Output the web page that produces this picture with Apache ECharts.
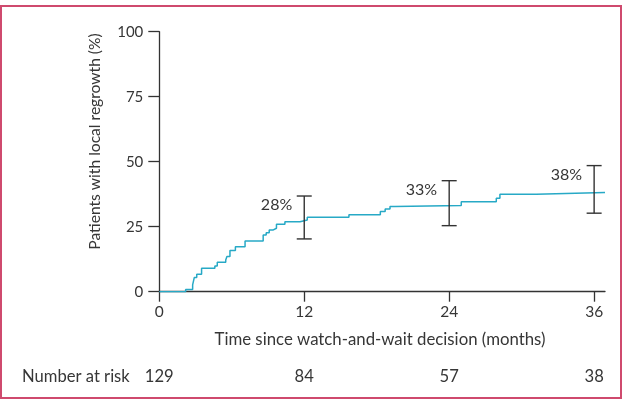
<!DOCTYPE html>
<html><head><meta charset="utf-8">
<script src="https://cdn.jsdelivr.net/npm/echarts@6/dist/echarts.min.js"></script>
<style>html,body{margin:0;padding:0;background:#fff}#c{width:625px;height:404px}</style>
</head><body><div id="c"></div>
<script>
// Kaplan-Meier style cumulative regrowth (month, %)
const curveMonths = [0, 2.18, 2.76, 2.9, 3.1, 3.5, 4.6, 4.8, 5.5, 5.6, 5.85, 6.3, 7.1, 8.6, 8.85, 9.1, 9.4, 9.7, 10.4, 11.65, 12.25, 15.7, 18.3, 18.7, 19.1, 19.5, 25.0, 27.9, 28.2, 31.2, 36.9];
const curveValues = [0, 0.8, 2.6, 5.5, 6.7, 9.0, 9.9, 11.3, 12.2, 13.5, 15.8, 17.3, 19.5, 21.8, 22.7, 23.7, 24.4, 25.9, 26.9, 27.6, 28.6, 29.6, 30.8, 31.8, 32.8, 33.2, 34.6, 35.9, 37.5, 38.2, 38.2];
const errTimes = [12, 24, 36];
const errLow = [20.3, 25.4, 30.2];
const errHigh = [36.8, 42.7, 48.5];
const errLabels = ['28%', '33%', '38%'];
const xTicks = [0, 12, 24, 36];
const yTicks = [0, 25, 50, 75, 100];
const riskTimes = [0, 12, 24, 36];
const riskCounts = ['129', '84', '57', '38'];

const FONT = 'Lato';
const TXT = '#363636';
const chart = echarts.init(document.getElementById('c'), null, {renderer: 'canvas'});
const gridLeft = 159.3, gridRight = 20, gridTop = 31.7, gridBottom = 112.3;

const option = {
  animation: false,
  backgroundColor: '#fff',
  grid: {left: gridLeft, right: gridRight, top: gridTop, bottom: gridBottom, containLabel: false},
  xAxis: {
    type: 'value', min: 0, max: 36.9,
    axisLine: {lineStyle: {color: '#333', width: 1.3}},
    axisTick: {customValues: xTicks, length: 10, lineStyle: {color: '#333', width: 1.3}},
    axisLabel: {customValues: xTicks, margin: 12, color: TXT, fontSize: 15.5, fontFamily: FONT},
    splitLine: {show: false}
  },
  yAxis: {
    type: 'value', min: 0, max: 100, interval: 25,
    axisLine: {show: true, lineStyle: {color: '#333', width: 1.3}},
    axisTick: {show: true, length: 11, lineStyle: {color: '#333', width: 1.3}},
    axisLabel: {margin: 16, color: TXT, fontSize: 15, fontFamily: FONT},
    splitLine: {show: false}
  },
  series: [
    {
      type: 'line', step: 'end', symbol: 'none',
      data: curveMonths.map((m, i) => [m, curveValues[i]]),
      lineStyle: {color: '#27a9c6', width: 1.5},
      z: 3
    },
    {
      type: 'custom',
      data: errTimes.map((t, i) => [t, errLow[i], errHigh[i], i]),
      renderItem: function (params, api) {
        const t = api.value(0);
        const lo = api.coord([t, api.value(1)]);
        const hi = api.coord([t, api.value(2)]);
        const idx = api.value(3);
        const cw = 7.5;
        const st = {stroke: '#333', lineWidth: 1.4};
        return {
          type: 'group',
          children: [
            {type: 'line', shape: {x1: lo[0], y1: lo[1], x2: hi[0], y2: hi[1]}, style: st},
            {type: 'line', shape: {x1: lo[0] - cw, y1: lo[1], x2: lo[0] + cw, y2: lo[1]}, style: st},
            {type: 'line', shape: {x1: hi[0] - cw, y1: hi[1], x2: hi[0] + cw, y2: hi[1]}, style: st},
            {type: 'text', x: hi[0] - 12, y: hi[1] + 9,
             style: {text: errLabels[idx], align: 'right', verticalAlign: 'middle', fill: TXT, fontSize: 16, fontFamily: FONT}}
          ]
        };
      },
      z: 4
    }
  ],
  graphic: []
};
chart.setOption(option);

const g = [];
g.push({type: 'rect', shape: {x: 1, y: 6, width: 620, height: 392}, style: {fill: 'none', stroke: '#cf4a6e', lineWidth: 2}, z: 10});
g.push({type: 'text', x: 95, y: 141.5, rotation: Math.PI / 2,
  style: {text: 'Patients with local regrowth (%)', align: 'center', verticalAlign: 'middle', fill: TXT, fontSize: 15.6, fontFamily: FONT}});
g.push({type: 'text', x: 380, y: 340,
  style: {text: 'Time since watch-and-wait decision (months)', align: 'center', verticalAlign: 'middle', fill: TXT, fontSize: 16.8, fontFamily: FONT}});
g.push({type: 'text', x: 22, y: 377,
  style: {text: 'Number at risk', align: 'left', verticalAlign: 'middle', fill: TXT, fontSize: 16.6, fontFamily: FONT}});
riskTimes.forEach((t, i) => {
  const p = chart.convertToPixel({gridIndex: 0}, [t, 0]);
  g.push({type: 'text', x: p[0], y: 377,
    style: {text: riskCounts[i], align: 'center', verticalAlign: 'middle', fill: TXT, fontSize: 16.6, fontFamily: FONT}});
});
chart.setOption({graphic: g});
</script></body></html>
